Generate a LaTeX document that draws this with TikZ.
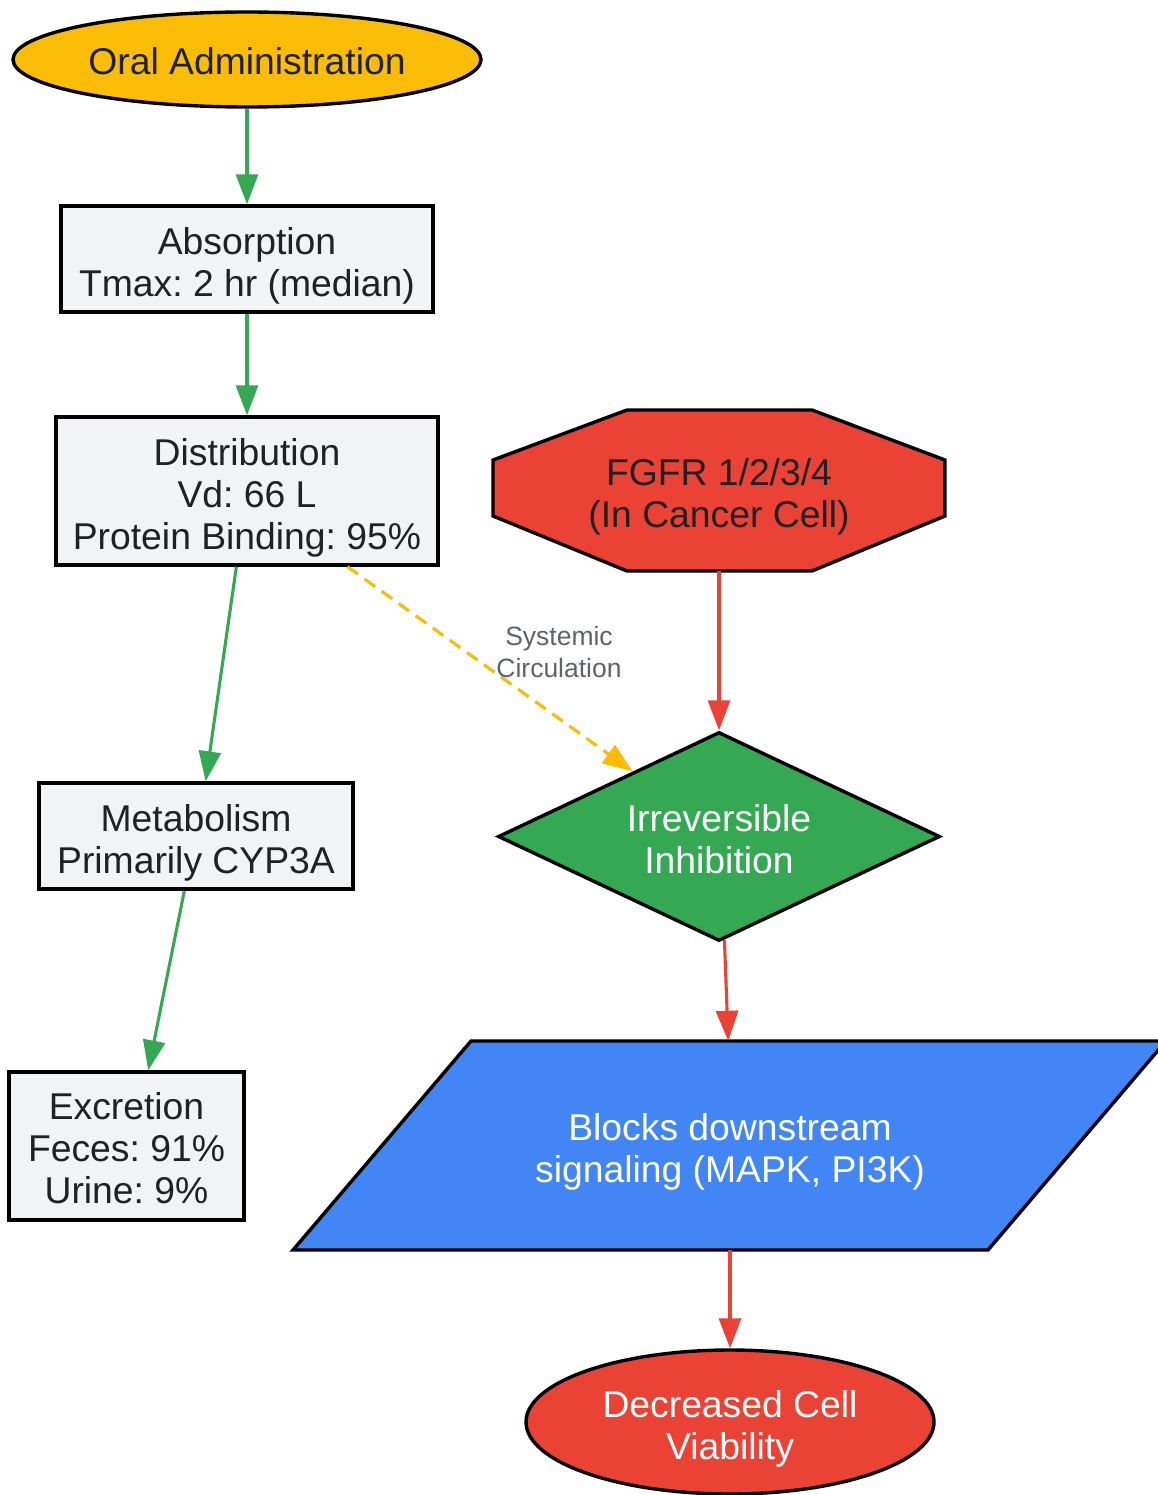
\documentclass[tikz,border=0pt]{standalone}
\usepackage{fontspec}
\setmainfont{Liberation Sans}
\frenchspacing
\usetikzlibrary{shapes.geometric,arrows.meta}
\definecolor{gGreen}{HTML}{34A853}
\definecolor{gRed}{HTML}{EA4335}
\definecolor{gYellow}{HTML}{FBBC05}
\definecolor{gBlue}{HTML}{4285F4}
\definecolor{boxFill}{HTML}{F1F3F4}
\definecolor{darkText}{HTML}{202124}
\definecolor{labelText}{HTML}{5F6368}
\begin{document}
\begin{tikzpicture}[x=1pt,y=-1pt,
  every node/.style={font=\fontsize{37.3}{42}\selectfont\frenchspacing, align=center, inner sep=0pt},
  border/.style={draw=black, line width=3.4pt},
  box/.style={border, fill=boxFill, rectangle},
  oval/.style={border, ellipse},
  dtxt/.style={text=darkText},
  wtxt/.style={text=white},
  gedge/.style={draw=gGreen, line width=3.1pt, -{Triangle[length=30pt,width=22pt]}},
  redge/.style={draw=gRed, line width=3.1pt, -{Triangle[length=30pt,width=22pt]}},
  dedge/.style={draw=gYellow, line width=3.1pt, dash pattern=on 13pt off 8pt, -{Triangle[length=30pt,width=22pt]}},
  elabel/.style={font=\fontsize{26.5}{32}\selectfont, text=labelText}
]
\useasboundingbox (0,0) rectangle (1158,1495);
\clip (0,0) rectangle (1158,1495);

% Left column
\node[oval, fill=gYellow, minimum width=468pt, minimum height=95pt,
  label={[dtxt, yshift=-2pt]center:Oral Administration}] (oral) at (247,59.5) {};
\node[box, minimum width=372pt, minimum height=106pt,
  label={[dtxt, yshift=-6.5pt]center:Absorption\\Tmax: 2 hr (median)}] (abs) at (247,259) {};
\node[box, minimum width=382pt, minimum height=148pt,
  label={[dtxt, yshift=-6.5pt]center:Distribution\\Vd: 66 L\\Protein Binding: 95\%}] (dist) at (247,491) {};
\node[box, minimum width=314pt, minimum height=106pt,
  label={[dtxt, yshift=-6.5pt]center:Metabolism\\Primarily CYP3A}] (met) at (196,836) {};
\node[box, minimum width=235pt, minimum height=148pt,
  label={[dtxt, yshift=-2.5pt]center:Excretion\\Feces: 91\%\\Urine: 9\%}] (exc) at (126.5,1146) {};

% Right column
\draw[border, fill=gRed, line join=miter] (627,410)--(812,410)--(945,460)--(945,516)--(812,571)--(627,571)--(493,516)--(493,460)--cycle;
\node[minimum width=452pt, minimum height=161pt,
  label={[dtxt, yshift=-6pt]center:FGFR 1/2/3/4\\(In Cancer Cell)}] (fgfr) at (719,490.5) {};
\node[border, diamond, fill=gGreen, shape aspect=2.115, minimum width=442pt, minimum height=209pt,
  label={[wtxt, yshift=-2.3pt]center:Irreversible\\Inhibition}] (inh) at (719,836.5) {};
\draw[border, fill=gBlue, line join=miter] (471,1041)--(1166,1041)--(988,1250)--(293,1250)--cycle;
\node[minimum width=500pt, minimum height=209pt,
  label={[wtxt, yshift=-6pt]center:Blocks downstream\\signaling (MAPK, PI3K)}] (blk) at (730,1145.5) {};
\node[oval, fill=gRed, minimum width=408pt, minimum height=144pt,
  label={[wtxt, yshift=-7pt]center:Decreased Cell\\Viability}] (dec) at (730,1422) {};

% Connectors
\draw[gedge] (oral.south) -- (abs.north);
\draw[gedge] (abs.south) -- (dist.north);
\draw[gedge] (dist.-98.5) -- (met.80.4);
\draw[gedge] (met.-102.8) -- (exc.74.5);
\draw[dedge] (dist.-37) -- (inh.143);
\node[elabel] (lbl) at (559,652) {Systemic\\Circulation};
\draw[redge] (fgfr.south) -- (inh.north);
\draw[redge] (inh.-87.8) -- (blk.91.6);
\draw[redge] (blk.south) -- (dec.north);
\end{tikzpicture}
\end{document}
